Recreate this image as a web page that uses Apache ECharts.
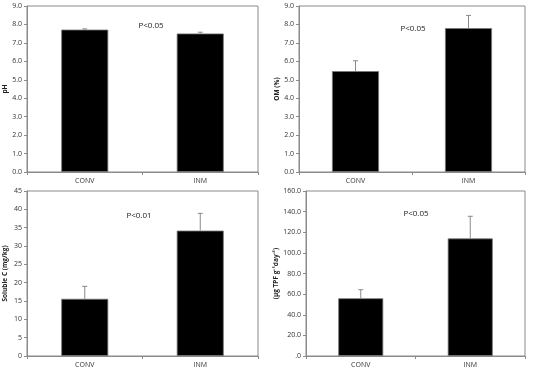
<!DOCTYPE html>
<html><head><meta charset="utf-8">
<script src="https://cdn.jsdelivr.net/npm/echarts@6/dist/echarts.min.js"></script>
<style>html,body{margin:0;padding:0;background:#fff}#c{width:534px;height:370px}</style>
</head><body><div id="c"></div>
<script>
var categories = ['CONV', 'INM'];
var phMeans = [7.72, 7.51];
var phErr = [0.04, 0.07];
var omMeans = [5.47, 7.8];
var omErr = [0.56, 0.69];
var solMeans = [15.6, 34.2];
var solErr = [3.4, 4.7];
var tpfMeans = [56.0, 114.0];
var tpfErr = [8.3, 21.5];
var yNames = ['pH', 'OM (%)', 'Soluble C (mg/kg)', '(\u03bcg TPF g\u207b\u00b9day\u207b\u00b9)'];
var pTexts = ['P<0.05', 'P<0.05', 'P<0.01', 'P<0.05'];
var yMax = [9, 9, 45, 160];
var yStep = [1, 1, 5, 20];

var FONT = 'Open Sans';
var grids = [
  {left: 27, top: 6, width: 231, height: 166},
  {left: 299, top: 6, width: 226, height: 166},
  {left: 27, top: 191, width: 231, height: 165},
  {left: 306, top: 191, width: 219, height: 165}
];
var nameX = [7, 278, 6, 278];
var barW = [47, 47, 47, 45];
var pPos = [[146, 17], [408, 20], [134, 207], [411, 205]];
var means = [phMeans, omMeans, solMeans, tpfMeans];
var errs = [phErr, omErr, solErr, tpfErr];

var fmts = [
  function (v) { return v.toFixed(1); },
  function (v) { return v.toFixed(1); },
  function (v) { return String(v); },
  function (v) { return v === 0 ? '.0' : v.toFixed(1); }
];

var option = {animation: false, grid: [], xAxis: [], yAxis: [], series: [], title: []};
grids.forEach(function (g, i) {
  option.grid.push({left: g.left, top: g.top, width: g.width, height: g.height,
    show: true, borderColor: '#8a8a8a', borderWidth: 1, backgroundColor: 'transparent'});
  option.xAxis.push({type: 'category', gridIndex: i, data: categories,
    axisLine: {lineStyle: {color: '#8a8a8a', width: 1}},
    axisTick: {show: true, length: 3, lineStyle: {color: '#8a8a8a'}},
    axisLabel: {color: '#333', fontSize: 7, fontFamily: FONT, margin: 5}});
  option.yAxis.push({type: 'value', gridIndex: i, min: 0, max: yMax[i], interval: yStep[i],
    splitLine: {show: false},
    axisLine: {show: true, lineStyle: {color: '#8a8a8a', width: 1}},
    axisTick: {show: true, length: 3, lineStyle: {color: '#8a8a8a'}},
    axisLabel: {color: '#333', fontSize: 7, fontFamily: FONT, margin: 5, formatter: fmts[i]},
    name: yNames[i], nameLocation: 'middle', nameRotate: 90,
    nameGap: g.left - nameX[i] - 3,
    nameTextStyle: {fontSize: 6.5, fontWeight: 'bold', color: '#222', fontFamily: FONT}});
  option.series.push({type: 'bar', xAxisIndex: i, yAxisIndex: i, data: means[i],
    barWidth: barW[i], itemStyle: {color: '#000', borderColor: '#777', borderWidth: 0.8}});
  var ed = means[i].map(function (m, k) { return [k, m, m + errs[i][k]]; });
  option.series.push({type: 'custom', xAxisIndex: i, yAxisIndex: i, data: ed, z: 5,
    renderItem: function (params, api) {
      var p0 = api.coord([api.value(0), api.value(1)]);
      var p1 = api.coord([api.value(0), api.value(2)]);
      var st = {stroke: '#8a8a8a', lineWidth: 1};
      return {type: 'group', children: [
        {type: 'line', shape: {x1: p0[0], y1: p0[1], x2: p1[0], y2: p1[1]}, style: st},
        {type: 'line', shape: {x1: p1[0] - 2.5, y1: p1[1], x2: p1[0] + 2.5, y2: p1[1]}, style: st}
      ]};
    }});
  option.title.push({text: pTexts[i], left: pPos[i][0], top: pPos[i][1],
    textAlign: 'center', textStyle: {fontSize: 8, fontWeight: 'normal', color: '#222', fontFamily: FONT}});
});
var chart = echarts.init(document.getElementById('c'), null, {renderer: 'canvas'});
chart.setOption(option);
</script></body></html>
